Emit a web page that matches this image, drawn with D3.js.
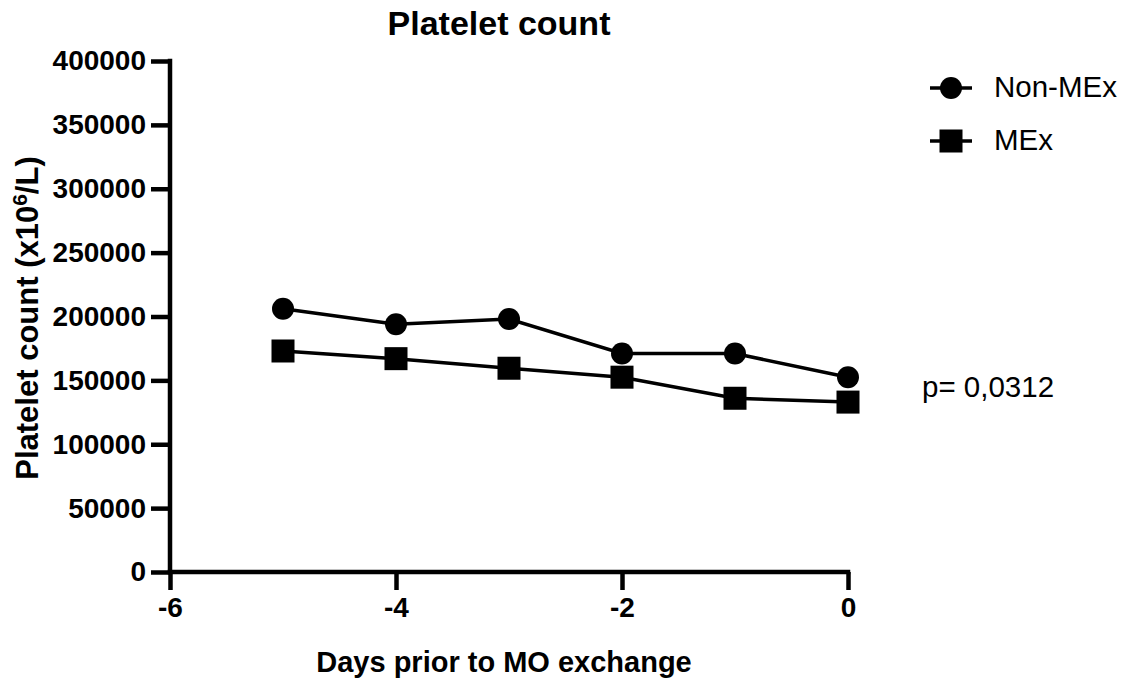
<!DOCTYPE html>
<html>
<head>
<meta charset="utf-8">
<script src="https://cdn.jsdelivr.net/npm/d3@7"></script>
<style>
  body { margin: 0; background: #fff; }
  svg text { font-family: "Liberation Sans", Arial, sans-serif; fill: #000; }
</style>
</head>
<body>
<script>
// days before the exchange, one point per day
const days = [-5, -4, -3, -2, -1, 0];
const nonMEx = [206000, 194000, 198000, 171000, 171000, 152500];
const mex = [173000, 167000, 159500, 152500, 136000, 133000];
const xTicks = [-6, -4, -2, 0];
const yTicks = [0, 50000, 100000, 150000, 200000, 250000, 300000, 350000, 400000];
const seriesNames = ["Non-MEx", "MEx"];

const width = 1127, height = 679;
const margin = { top: 61, right: 279, bottom: 107, left: 170 };

const svg = d3.select("body").append("svg")
    .attr("width", width)
    .attr("height", height);

const x = d3.scaleLinear().domain([-6, 0]).range([margin.left, width - margin.right]);
const y = d3.scaleLinear().domain([0, 400000]).range([height - margin.bottom, margin.top]);

// axes
const xAxis = svg.append("g")
    .attr("transform", `translate(0,${y(0)})`)
    .call(d3.axisBottom(x).tickValues(xTicks).tickSize(18).tickPadding(7).tickFormat(d3.format("d")));
const yAxis = svg.append("g")
    .attr("transform", `translate(${x(-6)},0)`)
    .call(d3.axisLeft(y).tickValues(yTicks).tickSize(19).tickPadding(5).tickFormat(d3.format("d")));

[xAxis, yAxis].forEach(g => {
  g.select(".domain").attr("stroke", "#000").attr("stroke-width", 4.5).attr("stroke-linecap", "square");
  g.selectAll(".tick line").attr("stroke", "#000").attr("stroke-width", 4.5);
  g.selectAll(".tick text")
    .attr("font-size", 28)
    .attr("font-weight", "bold")
    .style("font-family", '"Liberation Sans", Arial, sans-serif');
});
xAxis.selectAll(".tick text").text(d => d < 0 ? "-" + Math.abs(d) : d);
// get rid of the outer tick stubs d3 puts on the domain path
xAxis.select(".domain").attr("d", `M${x(-6)},0H${x(0)}`);
yAxis.select(".domain").attr("d", `M0,${y(0)}V${y(400000)}`);

// lines + markers
const line = d3.line().x((d, i) => x(days[i])).y(d => y(d));

[nonMEx, mex].forEach((vals, k) => {
  svg.append("path")
      .attr("d", line(vals))
      .attr("fill", "none")
      .attr("stroke", "#000")
      .attr("stroke-width", 3.5);
  const pts = svg.append("g").selectAll("g").data(vals).enter();
  if (k === 0) {
    pts.append("circle")
        .attr("cx", (d, i) => x(days[i]))
        .attr("cy", d => y(d))
        .attr("r", 11);
  } else {
    pts.append("rect")
        .attr("x", (d, i) => x(days[i]) - 11.5)
        .attr("y", d => y(d) - 11.5)
        .attr("width", 23)
        .attr("height", 23);
  }
});

// title
svg.append("text")
    .attr("x", 499).attr("y", 35)
    .attr("text-anchor", "middle")
    .attr("font-size", 34)
    .attr("font-weight", "bold")
    .text("Platelet count");

// x title
svg.append("text")
    .attr("x", 504).attr("y", 672)
    .attr("text-anchor", "middle")
    .attr("font-size", 29)
    .attr("font-weight", "bold")
    .text("Days prior to MO exchange");

// y title with superscript
const yt = svg.append("text")
    .attr("transform", "translate(38,318) rotate(-90)")
    .attr("text-anchor", "middle")
    .attr("font-size", 31)
    .attr("font-weight", "bold");
yt.append("tspan").text("Platelet count (x10");
yt.append("tspan").attr("dy", -11).attr("font-size", 21).text("6");
yt.append("tspan").attr("dy", 11).text("/L)");

// legend
const legend = svg.append("g").selectAll("g").data(seriesNames).enter().append("g")
    .attr("transform", (d, i) => `translate(951,${88 + i * 53})`);
legend.append("line")
    .attr("x1", -21).attr("x2", 21)
    .attr("stroke", "#000").attr("stroke-width", 3.5);
legend.filter((d, i) => i === 0).append("circle").attr("r", 11);
legend.filter((d, i) => i === 1).append("rect")
    .attr("x", -11.5).attr("y", -11.5).attr("width", 23).attr("height", 23);
legend.append("text")
    .attr("x", 43).attr("y", 9)
    .attr("font-size", 29.5)
    .text(d => d);

// p value
svg.append("text")
    .attr("x", 922).attr("y", 397)
    .attr("font-size", 29.5)
    .text("p= 0,0312");
</script>
</body>
</html>
